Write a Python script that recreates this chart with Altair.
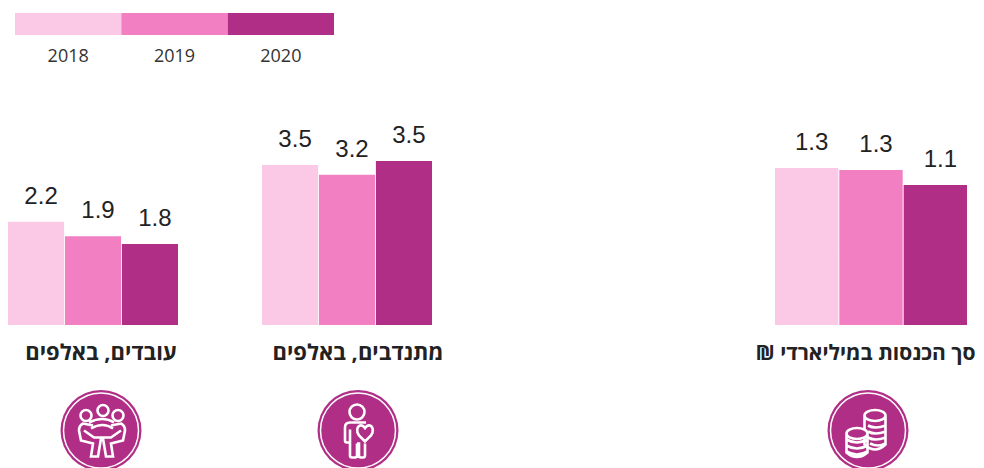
import altair as alt
import pandas as pd

years = ["2018", "2019", "2020"]
colors = ["#FBC8E6", "#F17FC2", "#B12E87"]
employees = [2.22, 1.91, 1.74]
employees_labels = ["2.2", "1.9", "1.8"]
volunteers = [3.44, 3.23, 3.53]
volunteers_labels = ["3.5", "3.2", "3.5"]
income = [1.256, 1.24, 1.12]
income_labels = ["1.3", "1.3", "1.1"]
titles = ["עובדים, באלפים", "מתנדבים, באלפים", "סך הכנסות במיליארדי ₪\u200f"]

PERSON = ("M-8.5,-18.5a7.5,7.5 0 1,0 15,0a7.5,7.5 0 1,0 -15,0"
          "M8,-8L-8,-8Q-13,-8 -13,-3L-13,10Q-13,12 -11,12L-8,12L-8,-1"
          "M-8,12L-8,25Q-8,27 -6,27L-3,27Q-1,27 -1,25L-1,13"
          "M-1,13L1,13L1,25Q1,27 3,27L5,27Q7,27 7,25L7,13"
          "M7,11L1,5C-2,1 -1,-4 2,-5C4,-5.5 6,-4 7,-2.5C8,-4 10,-5.5 12,-5C15,-4 16,1 13,5Z")
TEAM = ("M-20.5,-15a5.5,5.5 0 1,0 11,0a5.5,5.5 0 1,0 -11,0"
        "M-3.5,-20a5.5,5.5 0 1,0 11,0a5.5,5.5 0 1,0 -11,0"
        "M11.5,-15a5.5,5.5 0 1,0 11,0a5.5,5.5 0 1,0 -11,0"
        "M-12,-8Q2,-15 13,-8M-10,-2Q2,-9 12,-2"
        "M-8,-5L-18,-7Q-22,-5 -22,0L-20,10L-8,13L-10,26L-3,26L0,8"
        "M10,-5L20,-7Q24,-5 24,0L22,10L10,13L12,26L5,26L2,8"
        "M-17,0L-7,7L10,7L20,0")
COINS_R = ("M-3.5,-15a10.5,5.5 0 1,0 21,0a10.5,5.5 0 1,0 -21,0"
           "M-3.5,-15L-3.5,14Q7,24 17.5,14L17.5,-15"
           "M0,-5Q7,-1 17.5,-5M0,1Q7,5 17.5,1M0,7Q7,11 17.5,7M2,13Q10,17 17.5,13")
COINS_MASK = "M-21.5,3a10.5,5.5 0 1,0 21,0a10.5,5.5 0 1,0 -21,0L-0.5,22Q-11,31 -21.5,22Z"
COINS_L = ("M-21.5,3a10.5,5.5 0 1,0 21,0a10.5,5.5 0 1,0 -21,0"
           "M-21.5,3L-21.5,22Q-11,31 -0.5,22L-0.5,3"
           "M-21.5,9Q-11,15 -0.5,9M-21.5,15Q-11,21 -0.5,15M-21.5,21Q-11,27 -0.5,21")

ROW_H = 368
ICON_Y = 330.5
TITLE_Y = 260


def panel(values, labels, title, scale_max, band_range, width, center, icons, mask=None, title_center=None, title_size=22):
    df = pd.DataFrame({"year": years, "value": values, "label": labels})
    x = alt.X("year:N", axis=None,
              scale=alt.Scale(domain=years, range=band_range, paddingInner=0.015, paddingOuter=0))
    y = alt.Y("value:Q", axis=None, scale=alt.Scale(domain=[0, scale_max], range=[225, 0]))
    bars = alt.Chart(df).mark_bar().encode(
        x=x, y=y,
        color=alt.Color("year:N", legend=None, scale=alt.Scale(domain=years, range=colors)),
    )
    text = alt.Chart(df).mark_text(
        font="Liberation Sans", fontSize=24, color="#222222", baseline="alphabetic", dx=5, dy=-18
    ).encode(x=x, y=y, text="label:N")
    ttl = alt.Chart(pd.DataFrame({"t": [title]})).mark_text(
        font="Open Sans", fontSize=title_size, fontWeight="bold", color="#222222", baseline="alphabetic"
    ).encode(x=alt.value(center if title_center is None else title_center), y=alt.value(TITLE_Y), text="t:N")
    anchor = alt.Chart(pd.DataFrame({"a": [0]}))
    pos = dict(x=alt.value(center), y=alt.value(ICON_Y))
    outer = anchor.mark_point(shape="circle", filled=True, opacity=1, size=6561, color="#B12E87", clip=True).encode(**pos)
    ring = anchor.mark_point(shape="circle", filled=False, opacity=1, size=5625, color="white", strokeWidth=1.5, clip=True).encode(**pos)
    layers = [bars, text, ttl, outer, ring]
    for i, path in enumerate(icons):
        if mask is not None and i == 1:
            layers.append(anchor.mark_point(shape=mask, filled=True, opacity=1, size=4, color="#B12E87", clip=True).encode(**pos))
        layers.append(anchor.mark_point(shape=path, filled=False, opacity=1, size=4, color="white", strokeWidth=2.6, clip=True).encode(**pos))
    return alt.layer(*layers).properties(width=width, height=ROW_H)


p1 = panel(employees, employees_labels, titles[0], 4.84, [0, 170], 254, 93, [TEAM])
p2 = panel(volunteers, volunteers_labels, titles[1], 4.84, [0, 170], 488, 96, [PERSON])
p3 = panel(income, income_labels, titles[2], 1.8, [25, 217], 226, 118, [COINS_R, COINS_L], COINS_MASK,
           title_center=115.5, title_size=21)

leg_df = pd.DataFrame({"year": years})
leg_x = alt.X("year:N", axis=None, scale=alt.Scale(domain=years, range=[7, 326], paddingInner=0, paddingOuter=0))
leg_rect = alt.Chart(leg_df).mark_bar().encode(
    x=leg_x, y=alt.value(5), y2=alt.value(27),
    color=alt.Color("year:N", legend=None, scale=alt.Scale(domain=years, range=colors)),
)
leg_text = alt.Chart(leg_df).mark_text(
    font="Open Sans", fontSize=18, color="#333333", baseline="alphabetic"
).encode(x=leg_x, y=alt.value(54), text="year:N")
legend = alt.layer(leg_rect, leg_text).properties(width=326, height=92)

row = alt.hconcat(p1, p2, p3, spacing=0, bounds="flush").resolve_scale(x="independent", y="independent", color="independent")
chart = alt.vconcat(legend, row, spacing=0, bounds="flush").properties(padding=0).configure_view(strokeWidth=0)
chart.save("out.html", embed_options={"renderer": "svg", "actions": False})
